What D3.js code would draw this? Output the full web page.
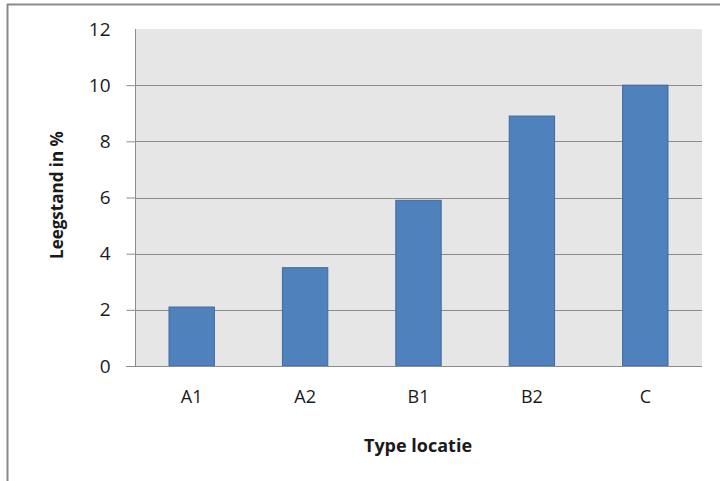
<!DOCTYPE html>
<html>
<head>
<meta charset="utf-8">
<script src="https://cdn.jsdelivr.net/npm/d3@7"></script>
<style>
  html, body { margin: 0; padding: 0; background: #ffffff; }
  svg { display: block; }
  text { font-family: "Open Sans", "Noto Sans", sans-serif; fill: #1a1a1a; }
</style>
</head>
<body>
<svg id="chart" width="720" height="481"></svg>
<script>
// Vacancy rate per location type
const categories = ["A1", "A2", "B1", "B2", "C"];
const values = [2.1, 3.5, 5.9, 8.9, 10.0];
const yTicks = [0, 2, 4, 6, 8, 10, 12];
const yTitle = "Leegstand in %";
const xTitle = "Type locatie";

const svg = d3.select("#chart");
const W = 720, H = 481;
const plot = { left: 135, top: 29, right: 702, bottom: 366 };

// Outer frame (top and left edges)
svg.append("line").attr("x1", 7).attr("x2", W).attr("y1", 4.5).attr("y2", 4.5)
  .attr("stroke", "#8a8a8a").attr("stroke-width", 2);
svg.append("line").attr("x1", 7.5).attr("x2", 7.5).attr("y1", 4).attr("y2", H)
  .attr("stroke", "#8a8a8a").attr("stroke-width", 2);

const x = d3.scaleBand().domain(categories).range([plot.left, plot.right])
  .paddingInner(0.6).paddingOuter(0.3);
const y = d3.scaleLinear().domain([0, 12]).range([plot.bottom, plot.top]);

// Plot background
svg.append("rect").attr("x", plot.left).attr("y", plot.top)
  .attr("width", plot.right - plot.left).attr("height", plot.bottom - plot.top)
  .attr("fill", "#e6e6e6");

// Horizontal gridlines
svg.append("g").selectAll("line").data(yTicks.filter(d => d > 0 && d < 12)).join("line")
  .attr("x1", plot.left).attr("x2", plot.right)
  .attr("y1", d => Math.round(y(d)) + 0.5).attr("y2", d => Math.round(y(d)) + 0.5)
  .attr("stroke", "#8c8c8c").attr("stroke-width", 1);

// Bars
svg.append("g").selectAll("rect").data(values).join("rect")
  .attr("x", (d, i) => x(categories[i]))
  .attr("y", d => y(d))
  .attr("width", x.bandwidth())
  .attr("height", d => y(0) - y(d))
  .attr("fill", "#4f81bd")
  .attr("stroke", "#3d6a9e")
  .attr("stroke-width", 1);

// Y axis
const yAxis = d3.axisLeft(y).tickValues(yTicks).tickSize(9).tickPadding(16)
  .tickFormat(d3.format("d"));
const gy = svg.append("g").attr("transform", `translate(${plot.left + 0.5},0)`).call(yAxis);
gy.select(".domain").attr("stroke", "#8c8c8c").attr("d", `M0,${plot.top}V${plot.bottom}`);
gy.selectAll(".tick line").attr("stroke", "#8c8c8c");
gy.selectAll(".tick").filter(d => d === 12).select("line").remove();
gy.selectAll(".tick text").attr("font-size", 19).attr("fill", "#1a1a1a")
  .style("font-family", '"Open Sans", sans-serif');

// X axis
const xAxis = d3.axisBottom(x).tickSize(0).tickPadding(24);
const gx = svg.append("g").attr("transform", `translate(0,${plot.bottom + 0.5})`).call(xAxis);
gx.select(".domain").attr("stroke", "#8c8c8c").attr("d", `M${plot.left - 9},0H${plot.right}`);
gx.selectAll(".tick text").attr("font-size", 18).attr("fill", "#1a1a1a")
  .style("font-family", '"Open Sans", sans-serif');

// Axis titles
svg.append("text")
  .attr("transform", `translate(63,195) rotate(-90)`)
  .attr("text-anchor", "middle").attr("font-size", 17).attr("font-weight", "bold")
  .text(yTitle);
svg.append("text")
  .attr("x", 418).attr("y", 452)
  .attr("text-anchor", "middle").attr("font-size", 18).attr("font-weight", "bold")
  .text(xTitle);
</script>
</body>
</html>
